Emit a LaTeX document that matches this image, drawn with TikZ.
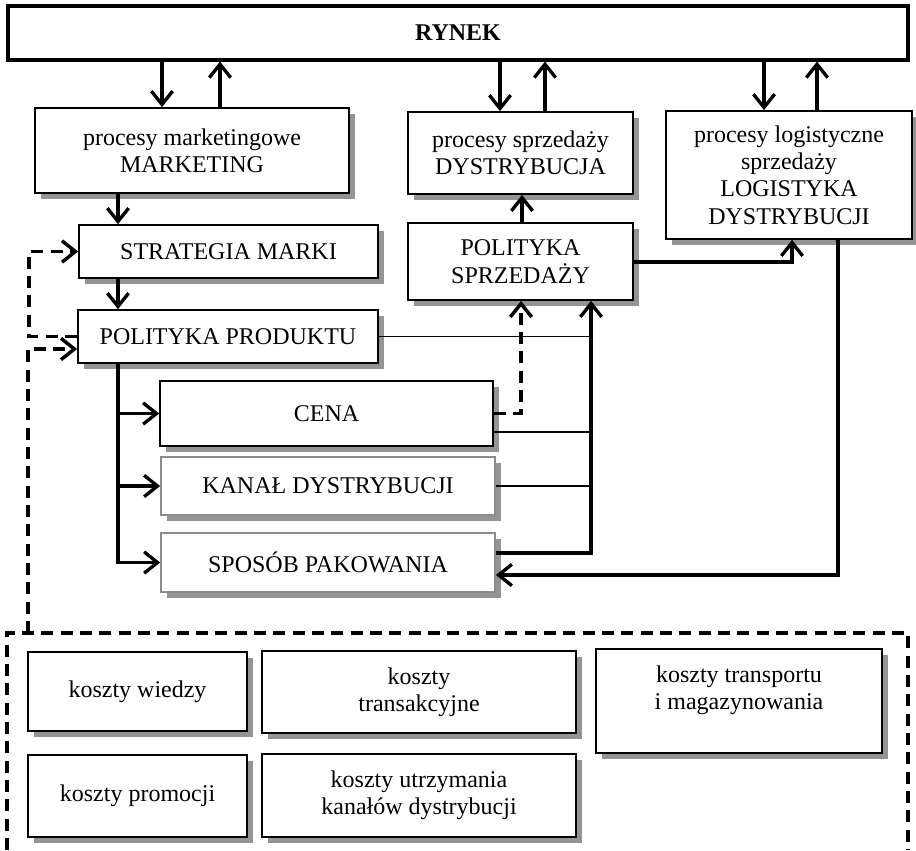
\documentclass[tikz,border=0pt]{standalone}
\usepackage{fontspec}
\setmainfont{Liberation Serif}
\usetikzlibrary{arrows.meta,shadows}
\begin{document}
\begin{tikzpicture}[x=0.75pt,y=-0.75pt,
  sz/.style 2 args={minimum width=#1*0.75pt, minimum height=#2*0.75pt},
  bx/.style={draw, line width=1.3pt, fill=white, align=center, inner sep=0pt,
    font=\fontsize{18}{20.5}\selectfont},
  box/.style={bx, drop shadow={shadow xshift=4.5pt, shadow yshift=-4.5pt, fill=black!42, opacity=1}},
  gbox/.style={box, draw=black!45},
  arr/.style={line width=2.5pt, -{Straight Barb[length=10pt,width=16pt]}},
  ln/.style={line width=1pt},
  dsh/.style={line width=2.6pt, dash pattern=on 9pt off 5.5pt},
  darr/.style={arr, line width=2.6pt, dash pattern=on 9pt off 5.5pt}]
\useasboundingbox (0,0) rectangle (916,850);

% top
\node[bx, line width=2.4pt, sz={900}{54}, font=\bfseries\fontsize{18}{20.5}\selectfont] (rynek) at (458,33) {RYNEK};
\node[box, sz={314}{85}] (mkt) at (192,150.5) {procesy marketingowe\\MARKETING};
\node[box, sz={225}{82}] (dys) at (520.5,153) {procesy sprzedaży\\DYSTRYBUCJA};
\node[box, sz={246}{128}] (log) at (789,175) {procesy logistyczne\\sprzedaży\\LOGISTYKA\\DYSTRYBUCJI};
\node[box, sz={299}{53}] (str) at (228.5,251.5) {STRATEGIA MARKI};
\node[box, sz={225}{77}] (ps) at (520.5,261.5) {POLITYKA\\SPRZEDAŻY};
\node[box, sz={300}{53}] (pp) at (228,336.5) {POLITYKA PRODUKTU};
\node[box, sz={333}{65}] (cena) at (326.5,413.5) {CENA};
\node[gbox, sz={334}{58}] (kanal) at (328,486) {KANAŁ DYSTRYBUCJI};
\node[gbox, sz={334}{59}] (spos) at (328,562.5) {SPOSÓB PAKOWANIA};

% costs
\node[box, sz={219}{79}] (kw) at (137.5,691.5) {koszty wiedzy};
\node[box, sz={314}{82}] (kt) at (419,692) {koszty\\transakcyjne};
\node[box, sz={286}{104}] (ktr) at (739,701) {koszty transportu\\i magazynowania\\\mbox{}};
\node[box, sz={219}{82}] (kp) at (137.5,796) {koszty promocji};
\node[box, sz={314}{83}] (ku) at (419,795.5) {koszty utrzymania\\kanałów dystrybucji};

% cost region (dashed, open at bottom)
\coordinate (cbl) at (7,850);
\coordinate (cbtl) at (7,633);
\coordinate (cbtr) at (908,633);
\coordinate (cbr) at (908,850);
\coordinate (cbtop) at (28,633);
\draw[dsh] (cbl) -- (cbtl) -- (cbtr) -- (cbr);

% market links
\draw[arr] (162,0 |- rynek.south) -- (162,0 |- mkt.north);
\draw[arr] (220,0 |- mkt.north) -- (220,0 |- rynek.south);
\draw[arr] (500,0 |- rynek.south) -- (500,0 |- dys.north);
\draw[arr] (545,0 |- dys.north) -- (545,0 |- rynek.south);
\draw[arr] (764,0 |- rynek.south) -- (764,0 |- log.north);
\draw[arr] (817,0 |- log.north) -- (817,0 |- rynek.south);

% marketing chain
\draw[arr] (118,0 |- mkt.south) -- (118,0 |- str.north);
\draw[arr] (118,0 |- str.south) -- (118,0 |- pp.north);
\draw[arr] (118,0 |- pp.south) |- (spos.west);
\draw[arr] (118,0 |- cena.west) -- (cena.west);
\draw[arr] (118,0 |- kanal.west) -- (kanal.west);

% sales
\draw[arr] (522,0 |- ps.north) -- (522,0 |- dys.south);
\draw[arr] (ps.east |- 0,262) -| (792,0 |- log.south);
\draw[arr] (838,0 |- log.south) |- (spos.east |- 0,575);

% feeds into sales policy
\draw[ln] (pp.east) -- (591,0 |- pp.east);
\draw[ln] (cena.east |- 0,432) -- (591,432);
\draw[ln] (kanal.east) -- (591,0 |- kanal.east);
\draw[arr] (spos.east |- 0,553) -| (591,0 |- ps.south);
\draw[darr] (cena.east) -| (521,0 |- ps.south);

% dashed feedback
\draw[darr] (pp.west) -- (29,0 |- pp.west) |- (str.west);
\draw[darr] (cbtop) |- (pp.west |- 0,349);
\end{tikzpicture}
\end{document}
